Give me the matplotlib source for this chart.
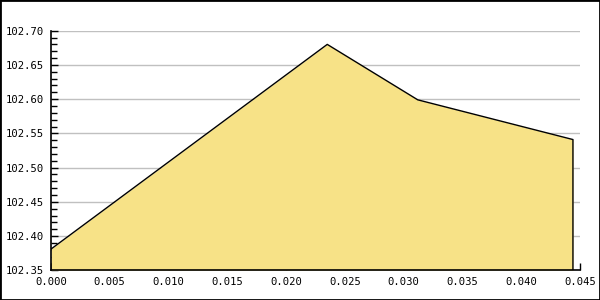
import matplotlib
matplotlib.use("Agg")
import matplotlib.pyplot as plt
from matplotlib.patches import Rectangle
from matplotlib.ticker import MultipleLocator, FormatStrFormatter

x = [0.0, 0.0235, 0.0312, 0.0444]
y = [102.381, 102.680, 102.599, 102.541]

fig = plt.figure(figsize=(6, 3), dpi=100)
ax = fig.add_axes([51/600, 1 - 270.3/300, 529/600, 239.6/300])

ax.fill_between(x, y, 102.35, color="#f7e287", linewidth=0)
ax.plot(x + [x[-1]], y + [102.35], color="black", linewidth=1)

ax.set_xlim(0, 0.045)
ax.set_ylim(102.35, 102.70)
ax.xaxis.set_major_locator(MultipleLocator(0.005))
ax.yaxis.set_major_locator(MultipleLocator(0.05))
ax.yaxis.set_minor_locator(MultipleLocator(0.01))
ax.xaxis.set_major_formatter(FormatStrFormatter("%.3f"))
ax.yaxis.set_major_formatter(FormatStrFormatter("%.2f"))

ax.grid(axis="y", color="#c0c0c0", linewidth=1)
ax.set_axisbelow(True)
for s in ["top", "right"]:
    ax.spines[s].set_visible(False)
for s in ["left", "bottom"]:
    ax.spines[s].set_linewidth(1.2)

ax.tick_params(axis="both", which="both", direction="in", width=1, colors="black",
               labelsize=7.6)
ax.tick_params(axis="y", which="major", length=5, pad=5)
ax.tick_params(axis="y", which="minor", length=4)
ax.tick_params(axis="x", which="major", length=5, pad=5)
for lab in ax.get_xticklabels() + ax.get_yticklabels():
    lab.set_family("DejaVu Sans Mono")

fig.patches.append(Rectangle((0, 0), 1, 1, transform=fig.transFigure,
                             fill=False, edgecolor="black", linewidth=2))

fig.savefig("out.png", dpi=100)
